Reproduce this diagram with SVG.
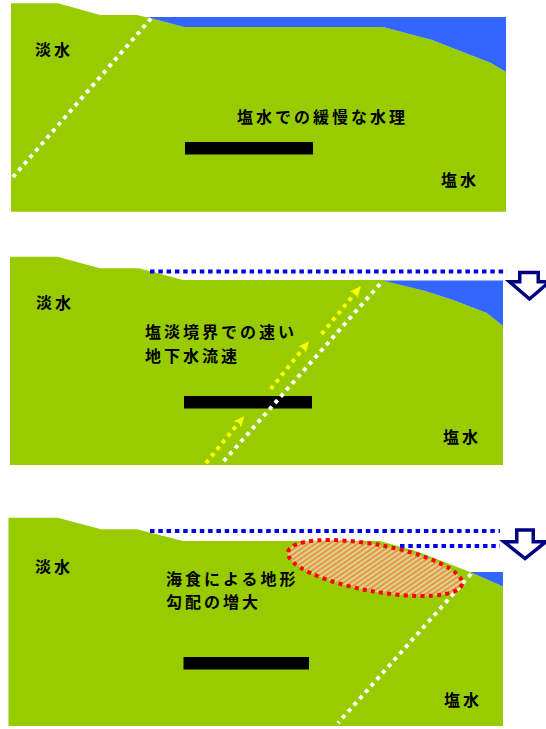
<svg xmlns="http://www.w3.org/2000/svg" width="546" height="729" viewBox="0 0 546 729">
  <style>
    .land { fill: #99cc00; }
    .sea { fill: #3366ff; }
    .bar { fill: #000000; }
    .lbl { font-family: "Noto Sans CJK JP", "Noto Sans", sans-serif; font-size: 16px; font-weight: bold; letter-spacing: 3px; fill: #000000; }
    .bound { fill: none; stroke: #ffffff; stroke-width: 4; stroke-dasharray: 4 4.6; }
    .flow { fill: none; stroke: #ffff00; stroke-width: 4; stroke-dasharray: 4 4.6; }
    .level { fill: none; stroke: #0000f0; stroke-width: 4; stroke-dasharray: 4.5 3.8; }
    .drop { fill: #ffffff; stroke: #000080; stroke-width: 3.5; stroke-linejoin: miter; }
    .erosion { fill: url(#hatch); stroke: #ff0000; stroke-width: 4; stroke-dasharray: 4 4.3; }
  </style>
  <defs>
    <marker id="yarrow" markerWidth="12" markerHeight="10" refX="10" refY="5" orient="auto" markerUnits="userSpaceOnUse">
      <path d="M0,0 L11,5 L0,10 L3,5 z" fill="#ffff00"/>
    </marker>
    <pattern id="hatch" width="4" height="4" patternUnits="userSpaceOnUse" patternTransform="rotate(45)">
      <rect width="4" height="4" fill="#d6d97c"/>
      <rect width="2" height="4" fill="#ec9156"/>
    </pattern>
  </defs>

  <!-- Panel 1: present state -->
  <g id="panel1">
    <path class="land" d="M11,3.3 L58,3.3 L100,15 L137,15 L150,18 L184,27 L383,27 L432,40 L491,63 L506,72 L506,211.7 L11,211.7 Z"/>
    <path class="sea" d="M147,17 L506,17 L506,72 L491,63 L432,40 L383,27 L184,27 L150,18 Z"/>
    <rect class="bar" x="185" y="142" width="128" height="12.5"/>
    <g id="p1-fresh"><text class="lbl" x="35" y="56">淡水</text></g>
    <g id="p1-note"><text class="lbl" x="237" y="123">塩水での緩慢な水理</text></g>
    <g id="p1-salt"><text class="lbl" x="441" y="186">塩水</text></g>
  </g>

  <!-- Panel 2: sea level fall -->
  <g id="panel2">
    <path class="land" d="M10,256.7 L57.5,256.7 L100,268.3 L139,268.3 L183,280 L383,280 L425,291 L453,300 L487,313 L503,326 L503,465 L10,465 Z"/>
    <path class="sea" d="M383,280.5 L503,280.5 L503,326 L487,313 L453,300 L425,291 Z"/>
    <rect class="bar" x="184" y="396" width="128" height="12.5"/>
    <g id="p2-fresh"><text class="lbl" x="36" y="309">淡水</text></g>
    <g id="p2-note">
      <text class="lbl" x="145" y="338">塩淡境界での速い</text>
      <text class="lbl" x="145" y="362">地下水流速</text>
    </g>
    <g id="p2-salt"><text class="lbl" x="443" y="443">塩水</text></g>
    <g id="p2-drop"><path class="drop" d="M519.75,272.5 L538.25,272.5 L538.25,281.7 L549.5,281.7 L529.5,299 L509.5,281.7 L519.75,281.7 Z"/></g>
  </g>

  <!-- Panel 3: coastal erosion -->
  <g id="panel3">
    <path class="land" d="M8.5,517.7 L57.5,517.7 L101,529.3 L137,529.3 L183,541 L380,541 L418,551.7 L470,572 L503,586.5 L503,726 L8.5,726 Z"/>
    <path class="sea" d="M470,572 L503,572 L503,586.5 Z"/>
    <rect class="bar" x="183.5" y="657" width="125.5" height="12.5"/>
    <g id="p3-fresh"><text class="lbl" x="35" y="573">淡水</text></g>
    <g id="p3-note">
      <text class="lbl" x="166" y="585">海食による地形</text>
      <text class="lbl" x="166" y="608">勾配の増大</text>
    </g>
    <g id="p3-salt"><text class="lbl" x="444" y="706">塩水</text></g>
    <g id="p3-drop"><path class="drop" d="M516.75,530 L533.25,530 L533.25,541.7 L546,541.7 L525,558.5 L504,541.7 L516.75,541.7 Z"/></g>
  </g>

  <!-- Boundaries, sea levels and flow lines -->
  <g id="connectors">
    <line class="bound" x1="151" y1="18.5" x2="13" y2="177"/>
    <line class="level" x1="150" y1="271.5" x2="507" y2="271.5"/>
    <line class="bound" x1="380" y1="284" x2="223" y2="462"/>
    <line class="flow" x1="206" y1="463" x2="243.5" y2="417" marker-end="url(#yarrow)"/>
    <line class="flow" x1="270.7" y1="389" x2="308.3" y2="342" marker-end="url(#yarrow)"/>
    <line class="flow" x1="321.7" y1="334" x2="360" y2="287" marker-end="url(#yarrow)"/>
    <line class="level" x1="150" y1="531" x2="500" y2="531"/>
    <line class="level" x1="400" y1="546" x2="500" y2="546"/>
    <line class="bound" x1="471" y1="574" x2="338" y2="723"/>
    <ellipse class="erosion" cx="375" cy="568" rx="88.5" ry="23.4" transform="rotate(10.4 375 568)"/>
  </g>
</svg>
